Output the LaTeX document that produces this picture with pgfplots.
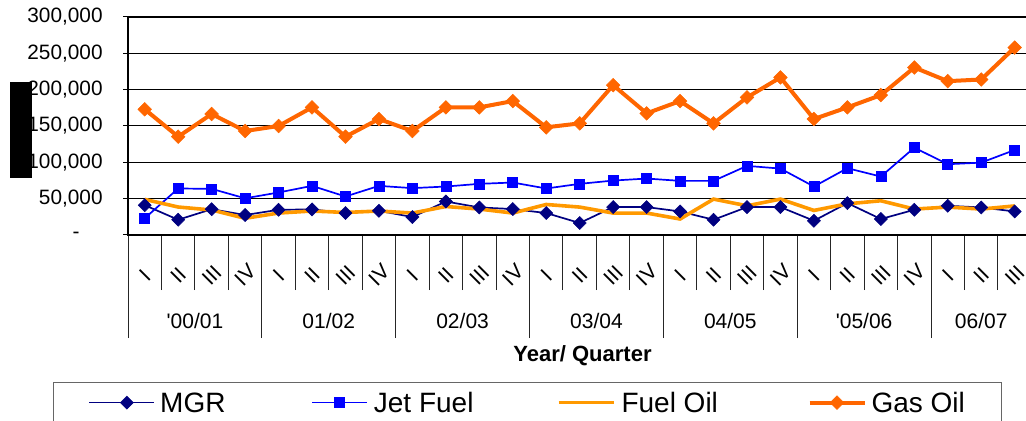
\documentclass[border=0pt]{standalone}
\usepackage{pgfplots}
\pgfplotsset{compat=1.18}
\usepackage{fontspec}
\setmainfont{Liberation Sans}
\definecolor{mgr}{RGB}{0,0,128}
\definecolor{jet}{RGB}{0,0,255}
\definecolor{fueloil}{RGB}{255,153,0}
\definecolor{gasoil}{RGB}{255,102,0}
\pgfplotsset{
  stdlegend/.style={legend image code/.code={\draw[mark repeat=2,mark phase=2,##1] plot coordinates {(0pt,0pt) (13.75pt,0pt) (27.5pt,0pt)};}},
  mgrlegend/.style={legend image code/.code={\path (-5pt,0pt) -- (0pt,0pt); \draw[mark repeat=2,mark phase=2,##1] plot coordinates {(0pt,0pt) (13.75pt,0pt) (27.5pt,0pt)};}},
}
\begin{document}
\begin{tikzpicture}
\useasboundingbox (-64pt,-93pt) rectangle (449pt,117.5pt);
\clip (-64pt,-93pt) rectangle (449pt,117.5pt);
\begin{axis}[
  at={(0pt,0pt)}, anchor=south west,
  scale only axis, width=451.7pt, height=109pt,
  xmin=-0.5, xmax=26.5, ymin=0, ymax=300000,
  clip=false,
  scaled y ticks=false,
  axis line style={line width=1.4pt},
  tick align=outside,
  xtick pos=left, ytick pos=left,
  ytick={0,50000,100000,150000,200000,250000,300000},
  yticklabels={{-\hspace*{11.5pt}},{50,000},{100,000},{150,000},{200,000},{250,000},{300,000}},
  yticklabel style={anchor=east, inner sep=0pt, xshift=-10pt, font=\fontsize{10.4}{12}\selectfont},
  major tick length=2.5pt,
  ytick style={black, line width=0.5pt},
  ymajorgrids, grid style={black, line width=0.5pt},
  xtick={0,...,26},
  xticklabels={I,II,III,IV,I,II,III,IV,I,II,III,IV,I,II,III,IV,I,II,III,IV,I,II,III,IV,I,II,III},
  xticklabel style={yshift=-17.5pt, rotate=45, anchor=center, inner sep=0pt, font=\fontsize{10.5}{12}\selectfont},
  major x tick style={draw=none},
  minor xtick={-0.5,0.5,...,26.5},
  minor tick length=27.5pt,
  minor x tick style={black!85, line width=0.5pt},
  extra x ticks={-0.5,3.5,7.5,11.5,15.5,19.5,23.5},
  extra x tick labels={},
  extra x tick style={major tick length=51.5pt, major x tick style={draw=black!85, line width=0.5pt}},
  xlabel={\textbf{Year/ Quarter}},
  xlabel style={at={(axis description cs:0.5031,0)}, anchor=center, yshift=-60.5pt, font=\fontsize{11}{13}\selectfont},
  ylabel={Tonnes},
  ylabel style={at={(axis description cs:-0.1185,0.4817)}, anchor=center, fill=black, text=black, inner sep=0pt, minimum width=48pt, minimum height=11pt},
  legend columns=4,
  legend style={at={(axis description cs:-0.0830,-0.6743)}, anchor=north west, draw=black!60, line width=0.5pt, inner xsep=17.5pt, inner ysep=5pt, column sep=0pt, nodes={inner sep=0pt, text depth=0pt}, font=\fontsize{14}{16}\selectfont},
  stdlegend,
]
\draw[line width=1.4pt, black] (rel axis cs:0,0) -- (rel axis cs:0,1) -- (rel axis cs:1,1) -- (rel axis cs:1,0) -- cycle;
\addplot[mgrlegend, color=mgr, line width=0.85pt, mark=square*, mark size=2.3pt, mark options={solid, rotate=45, fill=mgr, line width=0.3pt}]
coordinates {(0,41000)(1,21000)(2,35500)(3,27500)(4,34700)(5,35200)(6,30200)(7,33300)(8,24700)(9,46100)(10,37900)(11,35700)(12,30200)(13,16500)(14,38400)(15,38400)(16,32400)(17,21000)(18,38400)(19,38400)(20,19600)(21,43900)(22,22000)(23,34700)(24,40200)(25,37900)(26,32400)};
\addlegendentry{\makebox[78pt][l]{\hspace*{2.5pt}MGR}}
\addplot[color=jet, line width=0.85pt, mark=square*, mark size=2.5pt, mark options={solid, fill=jet, line width=0.3pt}]
coordinates {(0,23000)(1,64000)(2,63500)(3,50500)(4,58500)(5,67600)(6,53000)(7,67600)(8,64500)(9,66700)(10,70400)(11,72200)(12,64000)(13,70400)(14,74900)(15,77700)(16,74500)(17,74500)(18,95100)(19,91400)(20,66700)(21,91900)(22,80400)(23,120200)(24,97400)(25,99600)(26,117000)};
\addlegendentry{\makebox[94.5pt][l]{\hspace*{3pt}Jet Fuel}}
\addplot[color=fueloil, line width=1.8pt, mark=none]
coordinates {(0,49000)(1,38500)(2,34400)(3,23000)(4,30200)(5,33000)(6,31000)(7,33000)(8,30200)(9,39200)(10,35700)(11,30200)(12,42000)(13,38400)(14,30200)(15,30200)(16,22000)(17,49400)(18,40200)(19,49400)(20,33800)(21,42900)(22,47100)(23,35700)(24,38400)(25,35700)(26,40000)};
\addlegendentry{\makebox[96pt][l]{\hspace*{3pt}Fuel Oil}}
\addplot[color=gasoil, line width=2pt, mark=square*, mark size=2.4pt, mark options={solid, rotate=45, fill=gasoil, line width=0.3pt}]
coordinates {(0,173000)(1,135300)(2,166500)(3,143100)(4,150000)(5,175600)(6,135300)(7,159600)(8,143100)(9,175600)(10,175600)(11,184300)(12,148200)(13,153600)(14,206200)(15,167400)(16,184300)(17,153600)(18,189300)(19,216800)(20,159600)(21,175600)(22,192500)(23,230500)(24,211700)(25,214000)(26,257900)};
\addlegendentry{\makebox[50pt][l]{\hspace*{2.5pt}Gas Oil}}
\node[font=\fontsize{10.5}{12}\selectfont] at (axis cs:1.5,0) [yshift=-43pt] {\textquotesingle00/01};
\node[font=\fontsize{10.5}{12}\selectfont] at (axis cs:5.5,0) [yshift=-43pt] {01/02};
\node[font=\fontsize{10.5}{12}\selectfont] at (axis cs:9.5,0) [yshift=-43pt] {02/03};
\node[font=\fontsize{10.5}{12}\selectfont] at (axis cs:13.5,0) [yshift=-43pt] {03/04};
\node[font=\fontsize{10.5}{12}\selectfont] at (axis cs:17.5,0) [yshift=-43pt] {04/05};
\node[font=\fontsize{10.5}{12}\selectfont] at (axis cs:21.5,0) [yshift=-43pt] {\textquotesingle05/06};
\node[font=\fontsize{10.5}{12}\selectfont] at (axis cs:25,0) [yshift=-43pt] {06/07};
\end{axis}
\end{tikzpicture}
\end{document}
